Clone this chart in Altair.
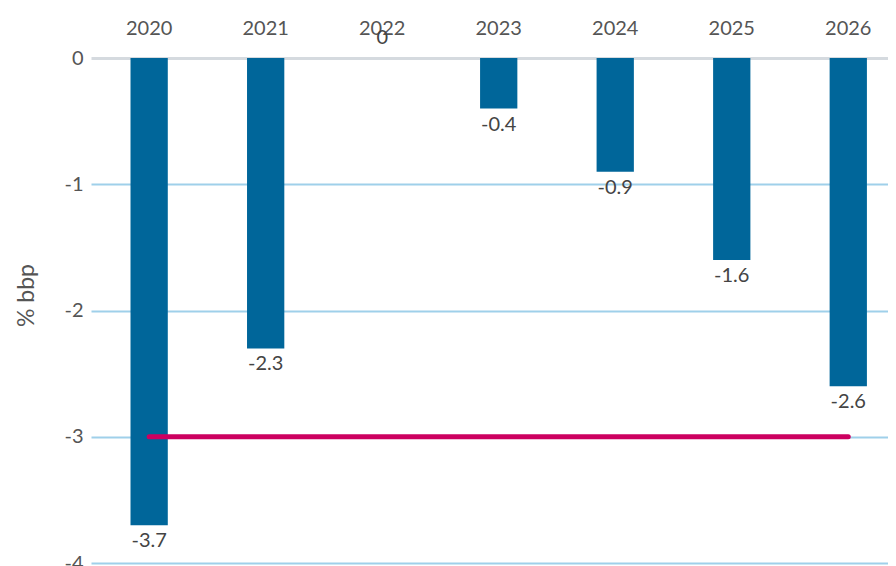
import altair as alt
import pandas as pd

years = ["2020", "2021", "2022", "2023", "2024", "2025", "2026"]
values = [-3.7, -2.3, 0, -0.4, -0.9, -1.6, -2.6]
target = [-3, -3, -3, -3, -3, -3, -3]

df = pd.DataFrame({"year": years, "value": values, "target": target})

FONT = "Lato"

x = alt.X(
    "year:N",
    sort=years,
    scale=alt.Scale(paddingInner=0.68, paddingOuter=0.26, align=0.652),
    axis=alt.Axis(
        orient="top",
        title=None,
        domain=False,
        ticks=False,
        tickSize=0,
        labelAngle=0,
        labelPadding=20,
        labelFontSize=20,
        labelColor="#555555",
        labelFont=FONT,
        grid=False,
    ),
)

y = alt.Y(
    "value:Q",
    scale=alt.Scale(domain=[-4, 0], nice=False, zero=False),
    axis=alt.Axis(
        title="% bbp",
        titleFont=FONT,
        titleFontSize=23,
        titleFontWeight="normal",
        titleColor="#555555",
        titlePadding=25,
        titleY=237,
        values=[0, -1, -2, -3, -4],
        labelExpr="datum.value + ''",
        labelFont=FONT,
        labelFontSize=20,
        labelColor="#555555",
        labelPadding=8,
        domain=False,
        ticks=False,
        tickSize=0,
        gridColor={"condition": {"test": "datum.value === 0", "value": "#d5dadf"}, "value": "#9fd0ea"},
        gridWidth={"condition": {"test": "datum.value === 0", "value": 3}, "value": 2},
    ),
)

base = alt.Chart(df)

bars = base.mark_bar(color="#00669a").encode(x=x, y=y)

labels_neg = base.transform_filter("datum.value < 0").transform_calculate(
    lab="datum.value + ''"
).mark_text(
    baseline="top", dy=6, fontSize=20, font=FONT, color="#444444"
).encode(x=x, y=y, text="lab:N")

labels_zero = base.transform_filter("datum.value >= 0").transform_calculate(
    lab="datum.value + ''"
).mark_text(
    baseline="alphabetic", dy=-14, fontSize=20, font=FONT, color="#444444"
).encode(x=x, y=y, text="lab:N")

line = base.mark_line(color="#cc0060", strokeWidth=5, strokeCap="round").encode(
    x=x, y=alt.Y("target:Q")
)

chart = (
    alt.layer(bars, labels_neg, labels_zero, line)
    .properties(
        width=797,
        height=505,
        autosize=alt.AutoSizeParams(type="none"),
        padding={"left": 83, "top": 50, "right": 0, "bottom": 20},
    )
    .configure_view(stroke=None)
)

chart.save("out.html", embed_options={"renderer": "svg", "actions": False})
